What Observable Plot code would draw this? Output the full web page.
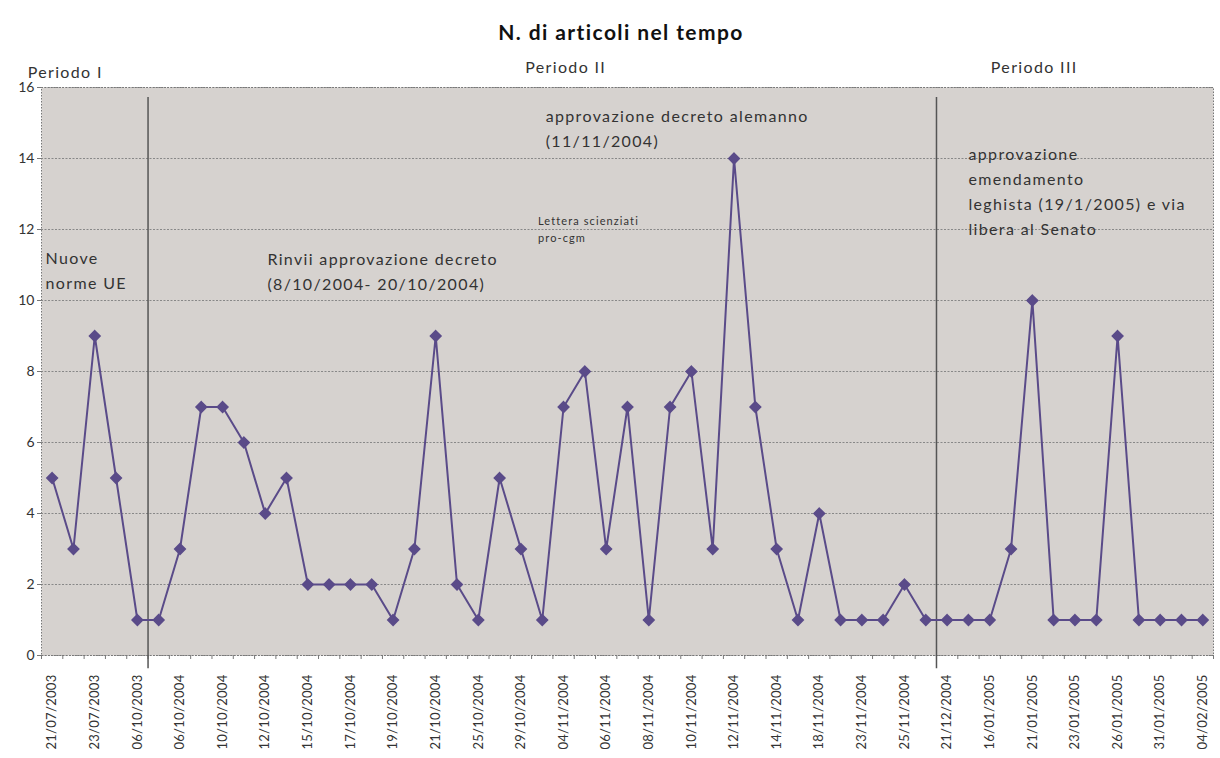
<!DOCTYPE html>
<html>
<head>
<meta charset="utf-8">
<script src="https://cdn.jsdelivr.net/npm/d3@7"></script>
<script src="https://cdn.jsdelivr.net/npm/@observablehq/plot@0.6"></script>
<style>
  body { margin: 0; background: #fff; font-family: Lato, "Open Sans", sans-serif; }
  #title { height: 50px; width: 1220px; box-sizing: border-box; padding-left: 22px; text-align: center; font-weight: bold; font-size: 21px; letter-spacing: 1.4px; line-height: 64px; color: #111; }
  .note text, .period text { letter-spacing: 1.35px; }
  .small-note text { letter-spacing: 1.1px; }
  .xlab text { letter-spacing: 0.3px; }
</style>
</head>
<body>
<div id="title">N. di articoli nel tempo</div>
<div id="chart"></div>
<script>
// Number of articles for each sampled date (in order)
const values = [5, 3, 9, 5, 1, 1, 3, 7, 7, 6, 4, 5, 2, 2, 2, 2, 1, 3, 9, 2, 1, 5, 3, 1, 7, 8, 3, 7, 1, 7, 8, 3, 14, 7, 3, 1, 4, 1, 1, 1, 2, 1, 1, 1, 1, 3, 10, 1, 1, 1, 9, 1, 1, 1, 1];
// Tick labels shown on every other date
const tickLabels = ["21/07/2003", "23/07/2003", "06/10/2003", "06/10/2004", "10/10/2004", "12/10/2004", "15/10/2004", "17/10/2004", "19/10/2004", "21/10/2004", "25/10/2004", "29/10/2004", "04/11/2004", "06/11/2004", "08/11/2004", "10/11/2004", "12/11/2004", "14/11/2004", "18/11/2004", "23/11/2004", "25/11/2004", "21/12/2004", "16/01/2005", "21/01/2005", "23/01/2005", "26/01/2005", "31/01/2005", "04/02/2005"];
// Period boundaries (between category indices)
const periodBreaks = [4.5, 41.5];
const periodNames = ["Periodo I", "Periodo II", "Periodo III"];
const periodLabelX = [-1.15, 22.2, 44.05];
const periodLabelY = [16.42, 16.56, 16.56];
// Annotations
const noteTexts = [
  "approvazione decreto alemanno\n(11/11/2004)",
  "Nuove\nnorme UE",
  "Rinvii approvazione decreto\n(8/10/2004- 20/10/2004)",
  "approvazione\nemendamento\nleghista (19/1/2005) e via\nlibera al Senato"
];
const noteX = [23.16, -0.31, 10.1, 43.0];
const noteY = [15.52, 11.52, 11.49, 14.45];
const smallNoteText = "Lettera scienziati\npro-cgm";
const smallNoteX = 22.8;
const smallNoteY = 12.45;

const data = values.map((v, i) => ({i, v}));
const notes = noteTexts.map((t, k) => ({t, x: noteX[k], y: noteY[k]}));
const periods = periodNames.map((n, k) => ({n, x: periodLabelX[k], y: periodLabelY[k]}));
const boundaries = d3.range(-0.5, values.length, 1);
const labelTicks = tickLabels.map((_, k) => k * 2);
const yTicks = d3.range(0, 17, 2);
const purple = "#5a4b89";
const textColor = "#333";

const chart = Plot.plot({
  width: 1220,
  height: 708,
  marginTop: 37,
  marginBottom: 103,
  marginLeft: 41,
  marginRight: 7,
  style: {fontFamily: "Lato, 'Open Sans', sans-serif", color: textColor, background: "transparent"},
  x: {type: "linear", domain: [-0.5, values.length - 0.5]},
  y: {domain: [0, 16]},
  marks: [
    Plot.frame({fill: "#d6d2cf", stroke: "none"}),
    Plot.ruleY(yTicks, {stroke: "#888", strokeDasharray: "2,1.5", strokeWidth: 1}),
    Plot.frame({stroke: "#777", strokeDasharray: "1.5,1.5"}),
    Plot.axisY({ticks: yTicks, tickSize: 4, tickPadding: 3, fontSize: 14, label: null, stroke: "#777"}),
    Plot.axisX({ticks: boundaries, tickFormat: () => "", tickSize: 4, label: null, stroke: "#777"}),
    Plot.axisX({ticks: labelTicks, tickFormat: d => tickLabels[d / 2], tickSize: 0, tickPadding: 19, tickRotate: -90, fontSize: 13, label: null, className: "xlab"}),
    Plot.ruleX(periodBreaks, {y1: -0.37, y2: 15.72, stroke: "#555", strokeWidth: 1.5}),
    Plot.line(data, {x: "i", y: "v", stroke: purple, strokeWidth: 2}),
    Plot.dot(data, {x: "i", y: "v", symbol: "diamond2", r: 4.8, fill: purple, stroke: purple}),
    Plot.text(periods, {x: "x", y: "y", text: "n", textAnchor: "start", fontSize: 16, fill: textColor, className: "period"}),
    Plot.text(notes, {x: "x", y: "y", text: "t", fontSize: 16, textAnchor: "start", lineAnchor: "top", lineHeight: 1.55, fill: textColor, className: "note"}),
    Plot.text([smallNoteText], {x: smallNoteX, y: smallNoteY, text: d => d, fontSize: 11, textAnchor: "start", lineAnchor: "top", lineHeight: 1.5, fill: textColor, className: "small-note"})
  ]
});
document.getElementById("chart").appendChild(chart);
</script>
</body>
</html>
